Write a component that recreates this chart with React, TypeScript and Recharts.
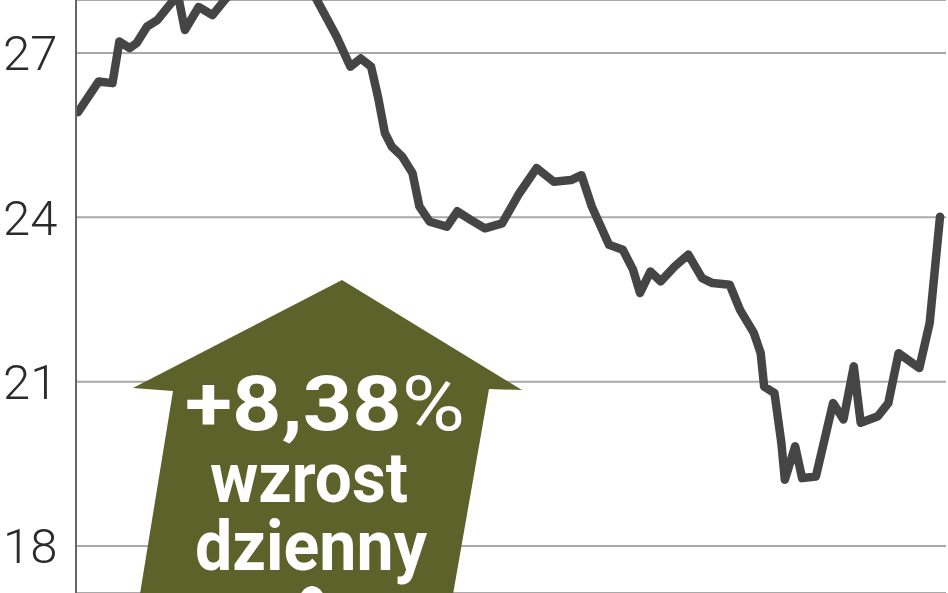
import React from "react";
import { LineChart, Line, XAxis, YAxis, CartesianGrid } from "recharts";

// trading-day index of each reading
const days = [
  0, 6, 10, 12, 15, 17, 20, 23, 27, 29, 31, 35, 39, 43, 46, 50, 54, 59, 62, 66,
  69, 75, 79, 82, 85, 87, 89, 91, 94, 97, 99, 102, 107, 110, 114, 118, 123, 128, 133, 138,
  143, 146, 149, 154, 158, 161, 163, 166, 169, 173, 177, 181, 184, 189, 192, 196, 198, 199, 202, 204,
  205, 208, 210, 214, 219, 222, 225, 227, 232, 235, 238, 244, 247, 250,
];

// closing price
const prices = [
  25.92, 26.48, 26.45, 27.21, 27.09, 27.18, 27.48, 27.6, 27.91, 28.05,
  27.42, 27.84, 27.69, 28.0, 28.15, 28.4, 28.6, 28.45, 28.6, 28.35,
  28.0, 27.3, 26.75, 26.9, 26.75, 26.2, 25.54, 25.29, 25.11, 24.81,
  24.2, 23.92, 23.83, 24.11, 23.95, 23.8, 23.89, 24.44, 24.9, 24.65,
  24.68, 24.77, 24.2, 23.5, 23.41, 23.04, 22.62, 23.01, 22.83, 23.1,
  23.32, 22.89, 22.8, 22.77, 22.31, 21.89, 21.52, 20.91, 20.79, 19.88,
  19.21, 19.82, 19.24, 19.27, 20.61, 20.31, 21.28, 20.25, 20.37, 20.61,
  21.52, 21.25, 22.07, 24.01,
];

const yTicks = [18, 21, 24, 27];
const yDomain = [17.143, 27.967];
const xDomain = [-0.58, 251.74];

const annotationLines = ["+8,38", "%", "wzrost", "dzienny"];

const data = days.map((d, i) => ({ day: d, price: prices[i] }));

const YTick = (props: any) => {
  const { y, payload } = props;
  return (
    <text
      x={3}
      y={y}
      dy="0.355em"
      textAnchor="start"
      fontFamily="Roboto, sans-serif"
      fontWeight={300}
      fontSize={49}
      fill="#2b2b2b"
    >
      {payload.value}
    </text>
  );
};

export default function App() {
  return (
    <div style={{ position: "absolute", left: 0, top: 0, width: 948, height: 593, background: "#fff" }}>
      <LineChart width={948} height={593} data={data} margin={{ top: 0, right: 2, bottom: 0, left: 0 }}>
        <CartesianGrid vertical={false} stroke="#a9a9a9" strokeWidth={2} />
        <XAxis dataKey="day" type="number" domain={xDomain} allowDataOverflow hide />
        <YAxis
          type="number"
          domain={yDomain}
          allowDataOverflow
          ticks={yTicks}
          width={76}
          axisLine={{ stroke: "#666", strokeWidth: 2 }}
          tickLine={false}
          tick={<YTick />}
        />
        <Line
          type="linear"
          dataKey="price"
          stroke="#454545"
          strokeWidth={8.5}
          strokeLinejoin="round"
          strokeLinecap="round"
          dot={false}
          isAnimationActive={false}
        />
      </LineChart>
      <svg
        width={948}
        height={593}
        style={{ position: "absolute", left: 0, top: 0, pointerEvents: "none" }}
      >
        <polygon
          points="342,280 522,390 489,389 452,600 139,600 173,391 133,388"
          fill="#5c6229"
        />
        <text
          x={185}
          y={430}
          textLength={280}
          lengthAdjust="spacingAndGlyphs"
          fontFamily="Roboto, sans-serif"
          fontWeight={700}
          fontSize={76}
          fill="#fff"
        >
          {annotationLines[0]}
          <tspan fontWeight={400}>{annotationLines[1]}</tspan>
        </text>
        <text
          x={210}
          y={502}
          textLength={198}
          lengthAdjust="spacingAndGlyphs"
          fontFamily="Roboto, sans-serif"
          fontWeight={700}
          fontSize={70}
          fill="#fff"
        >
          {annotationLines[2]}
        </text>
        <text
          x={195}
          y={570}
          textLength={232}
          lengthAdjust="spacingAndGlyphs"
          fontFamily="Roboto, sans-serif"
          fontWeight={700}
          fontSize={70}
          fill="#fff"
        >
          {annotationLines[3]}
        </text>
        <ellipse cx={312} cy={606} rx={14} ry={20} fill="#fff" />
      </svg>
    </div>
  );
}
